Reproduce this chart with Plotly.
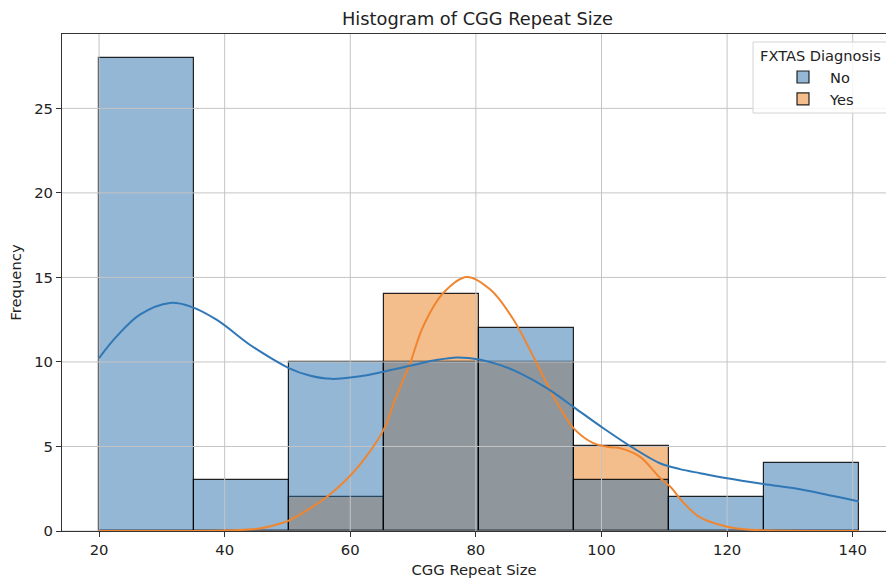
import plotly.graph_objects as go

# ---- data ----
bin_edges = [20, 35.125, 50.25, 65.375, 80.5, 95.625, 110.75, 125.875, 141]
counts_no = [28, 3, 10, 10, 12, 3, 2, 4]
counts_yes = [0, 0, 2, 14, 10, 5, 0, 0]

kde_no_x = [20, 22.8, 26.5, 31.3, 34.5, 38.7, 44.0, 47.5, 50.2, 53.5, 57, 61.6, 64.7,
            69.5, 73.5, 77.0, 80.7, 84, 87.0, 91.3, 95.8, 100.3, 105.1, 109.3, 112.5,
            115.7, 120, 125.8, 131.6, 136.9, 141]
kde_no_y = [10.23, 11.51, 12.8, 13.49, 13.29, 12.5, 11.02, 10.2, 9.64, 9.2, 9.0, 9.16, 9.38,
            9.77, 10.1, 10.27, 10.13, 9.8, 9.34, 8.45, 7.27, 6.08, 4.9, 4.01, 3.66,
            3.42, 3.12, 2.78, 2.47, 2.07, 1.74]

kde_yes_x = [20, 30, 40, 43, 45.6, 48, 50.2, 53, 56.3, 59, 61.6, 65.3, 67.1, 69.5, 71.6,
             74.8, 78.55, 82.3, 86.0, 89.4, 91.8, 93.9, 95.8, 98.7, 101.5, 103.0, 106.1,
             109.3, 111, 113, 115.7, 120, 123.8, 130, 141]
kde_yes_y = [0, 0, 0.03, 0.08, 0.15, 0.35, 0.61, 1.2, 2.03, 2.9, 3.95, 5.98, 7.76, 9.9, 12.1,
             14.08, 15.03, 14.28, 12.5, 10.13, 8.35, 6.97, 5.98, 5.2, 4.95, 4.9, 4.4,
             3.15, 2.6, 1.7, 0.8, 0.25, 0.07, 0.01, 0]

x_ticks = [20, 40, 60, 80, 100, 120, 140]
y_ticks = [0, 5, 10, 15, 20, 25]
x_range = [14.1, 145.3]
y_range = [0, 29.4]

BLUE_FILL = "rgba(41,111,171,0.5)"
ORANGE_FILL = "rgba(233,125,25,0.5)"
BLUE_LINE = "#3077b6"
ORANGE_LINE = "#f08530"
FONT = "DejaVu Sans"

W, H = 886, 578
L, R, T, B = 62, 0, 34, 47
PW, PH = W - L - R, H - T - B

lefts = bin_edges[:-1]
widths = [b - a for a, b in zip(bin_edges[:-1], bin_edges[1:])]

fig = go.Figure()

# Yes drawn first (underneath), No on top — like seaborn's layering
fig.add_trace(go.Bar(x=lefts, y=counts_yes, width=widths, offset=0, name="Yes",
                     marker=dict(color=ORANGE_FILL,
                                 line=dict(color="rgba(0,0,0,0.85)", width=1.2)),
                     legendrank=2))
fig.add_trace(go.Bar(x=lefts, y=counts_no, width=widths, offset=0, name="No",
                     marker=dict(color=BLUE_FILL,
                                 line=dict(color="rgba(0,0,0,0.85)", width=1.2)),
                     legendrank=1))

# grid drawn above bars, below lines (matplotlib default layering)
gx, gy = [], []
for t in x_ticks:
    gx += [t, t, None]
    gy += [y_range[0], y_range[1], None]
for t in y_ticks:
    gx += [x_range[0], x_range[1], None]
    gy += [t, t, None]
fig.add_trace(go.Scatter(x=gx, y=gy, mode="lines", line=dict(color="#c4c4c4", width=1),
                         showlegend=False, hoverinfo="skip"))

fig.add_trace(go.Scatter(x=kde_yes_x, y=kde_yes_y, mode="lines", line_shape="spline",
                         line=dict(color=ORANGE_LINE, width=2), showlegend=False))
fig.add_trace(go.Scatter(x=kde_no_x, y=kde_no_y, mode="lines", line_shape="spline",
                         line=dict(color=BLUE_LINE, width=2), showlegend=False))

# legend frame (matplotlib-style, running off the right edge)
fig.add_shape(type="rect", xref="paper", yref="paper", layer="above",
              x0=(753 - L) / PW, x1=(892 - L) / PW,
              y0=1 - (113 - T) / PH, y1=1 - (42 - T) / PH,
              fillcolor="rgba(255,255,255,0.8)", line=dict(color="#d4d4d4", width=1))
fig.add_annotation(text="FXTAS Diagnosis", xref="paper", yref="paper",
                   x=(820.5 - L) / PW, y=1 - (56 - T) / PH, xanchor="center", yanchor="middle",
                   showarrow=False, font=dict(size=14.6, family=FONT, color="#222222"))

fig.update_layout(
    width=W, height=H,
    margin=dict(l=L, r=R, t=T, b=B),
    plot_bgcolor="white", paper_bgcolor="white",
    barmode="overlay", bargap=0,
    font=dict(family=FONT, size=14.8, color="#222222"),
    title=dict(text="Histogram of CGG Repeat Size", x=477.5 / W, xref="container",
               xanchor="center", y=1 - 19 / H, yref="container", yanchor="middle",
               font=dict(size=17.8, family=FONT, color="#222222")),
    legend=dict(x=(776 - L) / PW, y=1 - (61 - T) / PH, xanchor="left", yanchor="top",
                bgcolor="rgba(0,0,0,0)", borderwidth=0, itemwidth=44,
                font=dict(size=14.6, family=FONT), tracegroupgap=0),
    showlegend=True,
)
fig.update_xaxes(range=x_range, tickvals=x_ticks, showgrid=False, zeroline=False,
                 showline=True, linecolor="#333333", linewidth=1.1, mirror=True,
                 ticks="outside", ticklen=5, tickcolor="#333333",
                 title=dict(text="CGG Repeat Size", standoff=7, font=dict(size=14.8)))
fig.update_yaxes(range=y_range, tickvals=y_ticks, showgrid=False, zeroline=False,
                 showline=True, linecolor="#333333", linewidth=1.1,
                 ticks="outside", ticklen=5, tickcolor="#333333",
                 title=dict(text="Frequency", standoff=8, font=dict(size=14.8)))

fig.write_html("out.html")
